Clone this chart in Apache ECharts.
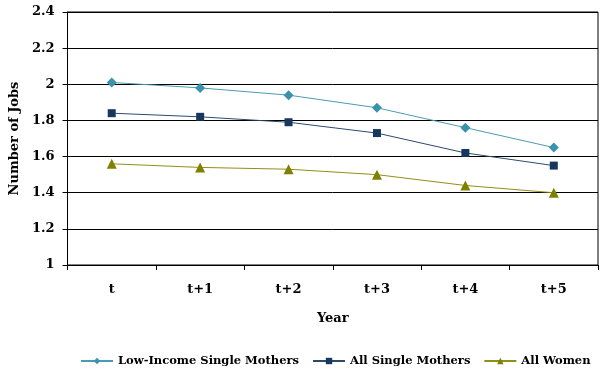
<!DOCTYPE html>
<html>
<head>
<meta charset="utf-8">
<script src="https://cdn.jsdelivr.net/npm/echarts@6/dist/echarts.min.js"></script>
<style>
  html, body { margin: 0; padding: 0; background: #fff; }
  #chart { width: 602px; height: 373px; }
</style>
</head>
<body>
<div id="chart"></div>
<script>
// data
const years = ['t', 't+1', 't+2', 't+3', 't+4', 't+5'];
const lowIncomeSingleMothers = [2.01, 1.98, 1.94, 1.87, 1.76, 1.65];
const allSingleMothers = [1.84, 1.82, 1.79, 1.73, 1.62, 1.55];
const allWomen = [1.56, 1.54, 1.53, 1.50, 1.44, 1.40];

const font = 'DejaVu Serif';
const chart = echarts.init(document.getElementById('chart'));

chart.setOption({
    animation: false,
    textStyle: { fontFamily: font },
    grid: { left: 63, right: 4, top: 12, bottom: 108, show: true, borderColor: '#000', borderWidth: 1 },
    legend: {
        bottom: 6,
        left: 80,
        width: 520,
        padding: 0,
        itemWidth: 32,
        itemHeight: 8,
        itemGap: 13,
        textStyle: { fontFamily: font, fontWeight: 'bold', fontSize: 11.5, color: '#000' },
        data: ['Low-Income Single Mothers', 'All Single Mothers', 'All Women']
    },
    xAxis: {
        type: 'category',
        data: years,
        boundaryGap: true,
        name: 'Year',
        nameLocation: 'middle',
        nameGap: 47,
        nameTextStyle: { fontFamily: font, fontWeight: 'bold', fontSize: 13, color: '#000' },
        axisLine: { lineStyle: { color: '#000', width: 1 } },
        axisTick: { show: true, length: 5, lineStyle: { color: '#000' } },
        axisLabel: { fontFamily: font, fontWeight: 'bold', fontSize: 13, color: '#000', margin: 18 }
    },
    yAxis: {
        type: 'value',
        min: 1,
        max: 2.4,
        interval: 0.2,
        name: 'Number of Jobs',
        nameLocation: 'middle',
        nameGap: 42,
        nameRotate: 90,
        nameTextStyle: { fontFamily: font, fontWeight: 'bold', fontSize: 13, color: '#000' },
        axisLine: { show: true, lineStyle: { color: '#000', width: 1 } },
        axisTick: { show: true, length: 5, lineStyle: { color: '#000' } },
        splitLine: { lineStyle: { color: '#000', width: 1 } },
        axisLabel: {
            fontFamily: font, fontWeight: 'bold', fontSize: 13, color: '#000', margin: 13,
            formatter: v => String(Math.round(v * 10) / 10)
        }
    },
    series: [
        {
            name: 'Low-Income Single Mothers',
            type: 'line',
            data: lowIncomeSingleMothers,
            symbol: 'diamond',
            symbolSize: 10,
            color: '#3A93AC',
            lineStyle: { width: 1, color: '#4A9BB3' },
            itemStyle: { color: '#3A93AC' }
        },
        {
            name: 'All Single Mothers',
            type: 'line',
            data: allSingleMothers,
            symbol: 'rect',
            symbolSize: 8,
            color: '#17375E',
            lineStyle: { width: 1, color: '#2A4A6E' },
            itemStyle: { color: '#17375E' }
        },
        {
            name: 'All Women',
            type: 'line',
            data: allWomen,
            symbol: 'triangle',
            symbolSize: 10,
            color: '#808000',
            lineStyle: { width: 1, color: '#8F8F1A' },
            itemStyle: { color: '#808000' }
        }
    ]
});
</script>
</body>
</html>
